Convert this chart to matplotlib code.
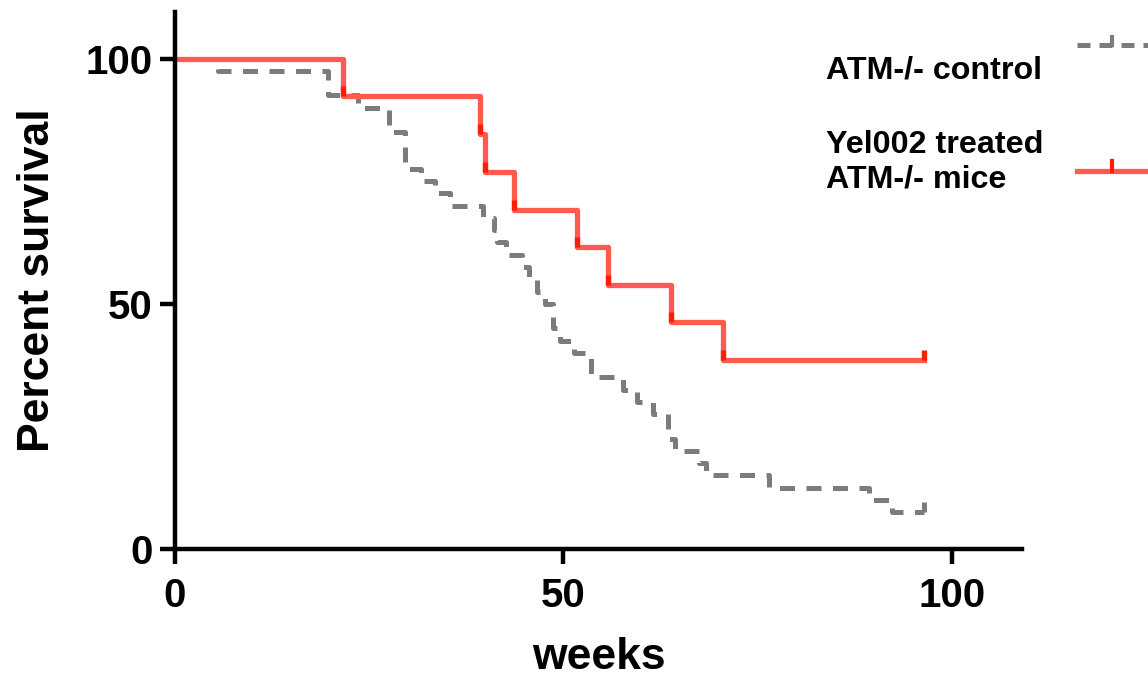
import matplotlib
matplotlib.use('Agg')
import matplotlib.pyplot as plt
from matplotlib.lines import Line2D
from matplotlib.path import Path

plt.rcParams['font.family'] = ['Liberation Sans', 'DejaVu Sans']
plt.rcParams['font.weight'] = 'bold'

# Kaplan-Meier curves (weeks, percent survival after each step)
ctrl_weeks = [0, 5.6, 19.7, 23.6, 27.6, 29.6, 31.6, 33.5, 35.4, 39.6, 41.0, 41.5, 42.6,
              44.6, 45.5, 46.6, 47.6, 48.6, 49.5, 51.4, 53.5, 57.6, 59.5, 61.5, 63.4,
              64.4, 67.4, 68.4, 76.4, 89.3, 92.3, 96.4]
ctrl_surv = [100, 97.5, 92.5, 90, 85, 77.5, 75, 72.5, 70, 67.5, 65, 62.5, 60,
             57.5, 55, 52.5, 50, 45, 42.5, 40, 35, 32.5, 30, 27.5, 22.5,
             20, 17.5, 15, 12.5, 10, 7.5, 7.5]
treat_weeks = [0, 21.6, 39.3, 39.9, 43.6, 51.8, 55.7, 63.9, 70.5, 96.4]
treat_surv = [100, 92.3, 84.6, 76.9, 69.2, 61.5, 53.8, 46.2, 38.5, 38.5]

ctrl_label = 'ATM-/- control'
treat_label = 'Yel002 treated\nATM-/- mice'
xticks = [0, 50, 100]
yticks = [0, 50, 100]

gray = '#7c7c7c'
red = '#ff5a50'
dark_red = '#ff1e00'
up_tick = Path([(0, 0), (0, 1)])

fig = plt.figure(figsize=(11.48, 6.81), dpi=100)
ax = fig.add_axes([0.1524, 0.1938, 0.7378, 0.7886])

ax.step(ctrl_weeks, ctrl_surv, where='post', color=gray, lw=3.6,
        linestyle=(0, (3.0, 2.3)), dash_capstyle='butt')
ax.plot(ctrl_weeks[-1:], ctrl_surv[-1:], ls='none', marker=up_tick, ms=14,
        mec=gray, mew=3.6)

ax.step(treat_weeks, treat_surv, where='post', color=red, lw=3.8)
ax.plot(treat_weeks[1:], treat_surv[1:], ls='none', marker=up_tick, ms=14,
        mec=dark_red, mew=3.8)

ax.set_xlim(0, 109)
ax.set_ylim(0, 109.5)
for s in ['top', 'right']:
    ax.spines[s].set_visible(False)
for s in ['left', 'bottom']:
    ax.spines[s].set_linewidth(3.2)
ax.set_xticks(xticks)
ax.set_yticks(yticks)
ax.tick_params(width=3.2, length=11, direction='out', labelsize=29)
ax.tick_params(axis='x', pad=9)
ax.tick_params(axis='y', pad=5)
ax.set_xlabel('weeks', fontsize=32, fontweight='bold', labelpad=16)
ax.set_ylabel('Percent survival', fontsize=32, fontweight='bold', labelpad=20)

# legend drawn by hand: labels on the left, sample lines running off the right edge
fig.text(0.7195, 0.897, ctrl_label, fontsize=23.2, fontweight='bold', va='center', ha='left')
fig.text(0.7195, 0.7614, treat_label, fontsize=23.2, fontweight='bold', va='center',
         ha='left', linespacing=1.2)
fig.add_artist(Line2D([0.938, 1.01], [0.9339, 0.9339], transform=fig.transFigure,
                      color=gray, lw=3.6, linestyle=(0, (2.6, 1.8))))
fig.add_artist(Line2D([0.9686, 0.9686], [0.9339, 0.9457], transform=fig.transFigure,
                      color=gray, lw=3.0))
fig.add_artist(Line2D([0.938, 1.01], [0.7489, 0.7489], transform=fig.transFigure,
                      color=red, lw=3.8))
fig.add_artist(Line2D([0.9686, 0.9686], [0.7489, 0.7636], transform=fig.transFigure,
                      color=dark_red, lw=3.0))

fig.savefig('out.png', dpi=100)
